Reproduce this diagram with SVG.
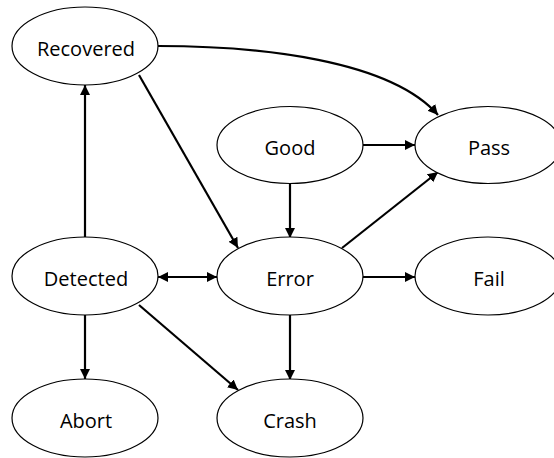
<svg xmlns="http://www.w3.org/2000/svg" width="554" height="458" viewBox="0 0 554 458">
  <style>
    .node ellipse { fill: #fff; stroke: #000; stroke-width: 1.2; }
    .node text { font-family: "Open Sans", "Liberation Sans", sans-serif; font-size: 20px; fill: #000; text-anchor: middle; }
    .edge { fill: none; stroke: #000; stroke-width: 2.2; }
  </style>
  <defs>
    <marker id="arrow" viewBox="0 0 10 10" refX="10" refY="5" markerWidth="4.6" markerHeight="5.4" markerUnits="strokeWidth" orient="auto-start-reverse">
      <path d="M0,0 L10,5 L0,10 Z" fill="#000"/>
    </marker>
  </defs>
  <rect width="554" height="458" fill="#fff"/>

  <g id="connectors">
    <path class="edge" d="M158,46 C260,46 390,60 438,115" marker-end="url(#arrow)"/>
    <path class="edge" d="M139,75 L238,248" marker-end="url(#arrow)"/>
    <path class="edge" d="M363,145 L415,145" marker-end="url(#arrow)"/>
    <path class="edge" d="M290,183 L290,238" marker-end="url(#arrow)"/>
    <path class="edge" d="M342,248 L438,172" marker-end="url(#arrow)"/>
    <path class="edge" d="M158,277 L217,277" marker-start="url(#arrow)" marker-end="url(#arrow)"/>
    <path class="edge" d="M363,277 L415,277" marker-end="url(#arrow)"/>
    <path class="edge" d="M290,315 L290,380" marker-end="url(#arrow)"/>
    <path class="edge" d="M85,237 L85,85" marker-end="url(#arrow)"/>
    <path class="edge" d="M85,315 L85,379" marker-end="url(#arrow)"/>
    <path class="edge" d="M139,305 L238,390" marker-end="url(#arrow)"/>
  </g>

  <g id="recovered" class="node">
    <ellipse cx="85" cy="46" rx="73" ry="39"/>
    <text x="86" y="56">Recovered</text>
  </g>
  <g id="good" class="node">
    <ellipse cx="290" cy="145" rx="73" ry="38.5"/>
    <text x="290" y="155">Good</text>
  </g>
  <g id="pass" class="node">
    <ellipse cx="488" cy="145" rx="73" ry="38.5"/>
    <text x="489" y="155">Pass</text>
  </g>
  <g id="detected" class="node">
    <ellipse cx="85" cy="276" rx="73" ry="39"/>
    <text x="86" y="286">Detected</text>
  </g>
  <g id="error" class="node">
    <ellipse cx="290" cy="276" rx="73" ry="39"/>
    <text x="290" y="286">Error</text>
  </g>
  <g id="fail" class="node">
    <ellipse cx="488" cy="276" rx="73" ry="39"/>
    <text x="489" y="286">Fail</text>
  </g>
  <g id="abort" class="node">
    <ellipse cx="85" cy="418" rx="73" ry="39"/>
    <text x="86" y="428">Abort</text>
  </g>
  <g id="crash" class="node">
    <ellipse cx="290" cy="418" rx="73" ry="39"/>
    <text x="290" y="428">Crash</text>
  </g>
</svg>
